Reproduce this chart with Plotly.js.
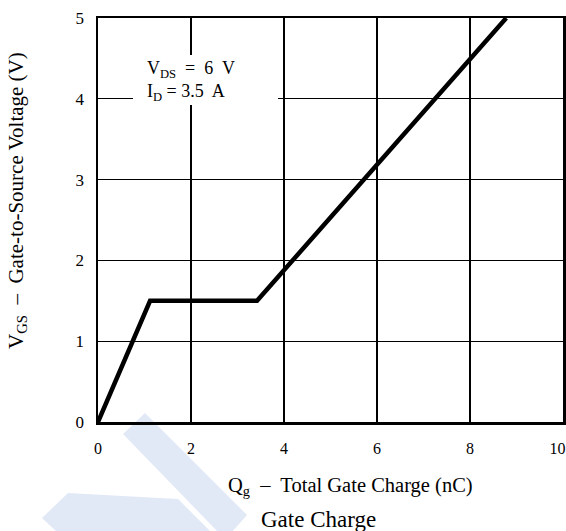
<!DOCTYPE html>
<html>
<head>
<meta charset="utf-8">
<script src="https://cdn.plot.ly/plotly-3.0.1.min.js"></script>
<style>html,body{margin:0;padding:0;background:#fff;}#chart{width:566px;height:531px;}</style>
</head>
<body>
<div id="chart"></div>
<script>
// Data
var qgTotal = [0, 1.12, 3.42, 8.78];      // Qg (nC)
var vgsValues = [0, 1.5, 1.5, 5.0];       // VGS (V)
var xTickVals = [0, 2, 4, 6, 8, 10];
var xTickText = ['0', '2', '4', '6', '8', '10\u2007\u2009'];
var yTickVals = [0, 1, 2, 3, 4, 5];
var condLines = ["V<sub>DS</sub>  =  6  V", "I<sub>D</sub> = 3.5  A"];

// plot frame in pixels (for placing decorations)
var L = 98, R = 563, T = 18, B = 422;
function px(x){ return (x - L) / (R - L); }
function py(y){ return (B - y) / (B - T); }
function path(pts){
  return 'M' + pts.map(function(p){ return px(p[0]) + ',' + py(p[1]); }).join(' L') + ' Z';
}
var FONT = '"Liberation Serif", "DejaVu Serif", serif';
var wm = 'rgb(226,233,246)';

var trace = {
  x: qgTotal, y: vgsValues, type: 'scatter', mode: 'lines',
  line: {color: '#000', width: 4.5}, hoverinfo: 'skip', showlegend: false
};

var layout = {
  width: 566, height: 531,
  margin: {l: L, r: 566 - R, t: T, b: 531 - B},
  paper_bgcolor: '#fff', plot_bgcolor: 'rgba(0,0,0,0)',
  font: {family: FONT, color: '#000', size: 15},
  xaxis: {
    range: [0, 10], tickvals: xTickVals, ticktext: xTickText, ticks: '', showgrid: true,
    gridcolor: '#000', gridwidth: 1.3, showline: true, linecolor: '#000',
    linewidth: 2.5, mirror: true, zeroline: false, ticklabelstandoff: 10,
    ticklabeloverflow: 'allow',
    tickfont: {family: FONT, size: 16}, fixedrange: true
  },
  yaxis: {
    range: [0, 5], tickvals: yTickVals, ticks: '', showgrid: true,
    gridcolor: '#000', gridwidth: 1.3, showline: true, linecolor: '#000',
    linewidth: 2.5, mirror: true, zeroline: false, ticklabelstandoff: 8,
    ticklabeloverflow: 'allow',
    tickfont: {family: FONT, size: 17}, fixedrange: true
  },
  shapes: [
    {type: 'path', xref: 'paper', yref: 'paper', layer: 'below',
     path: path([[145,413],[247,515],[231,533],[219,533],[123,434]]),
     fillcolor: wm, line: {width: 0}},
    {type: 'path', xref: 'paper', yref: 'paper', layer: 'below',
     path: path([[68,493],[178,499],[212,533],[58,533],[42,518]]),
     fillcolor: wm, line: {width: 0}},
    {type: 'rect', xref: 'paper', yref: 'paper', layer: 'above',
     x0: px(133), x1: px(278), y0: py(105), y1: py(55),
     fillcolor: '#fff', line: {width: 0}}
  ],
  annotations: [
    {xref: 'paper', yref: 'paper', x: px(145), y: py(56), xanchor: 'left', yanchor: 'top',
     align: 'left', showarrow: false, text: condLines.join('<br>'),
     font: {family: FONT, size: 18}},
    {xref: 'paper', yref: 'paper', x: px(350), y: py(487), xanchor: 'center', yanchor: 'middle',
     showarrow: false, text: 'Q<sub>g</sub>  –  Total Gate Charge (nC)',
     font: {family: FONT, size: 20.5}},
    {xref: 'paper', yref: 'paper', x: px(318), y: py(519), xanchor: 'center', yanchor: 'middle',
     showarrow: false, text: 'Gate Charge', font: {family: FONT, size: 23}},
    {xref: 'paper', yref: 'paper', x: px(17), y: py(201), xanchor: 'center', yanchor: 'middle',
     textangle: -90, showarrow: false, text: 'V<sub>GS</sub>  –  Gate-to-Source Voltage (V)',
     font: {family: FONT, size: 21}}
  ]
};

Plotly.newPlot('chart', [trace], layout, {displayModeBar: false, staticPlot: true});
</script>
</body>
</html>
